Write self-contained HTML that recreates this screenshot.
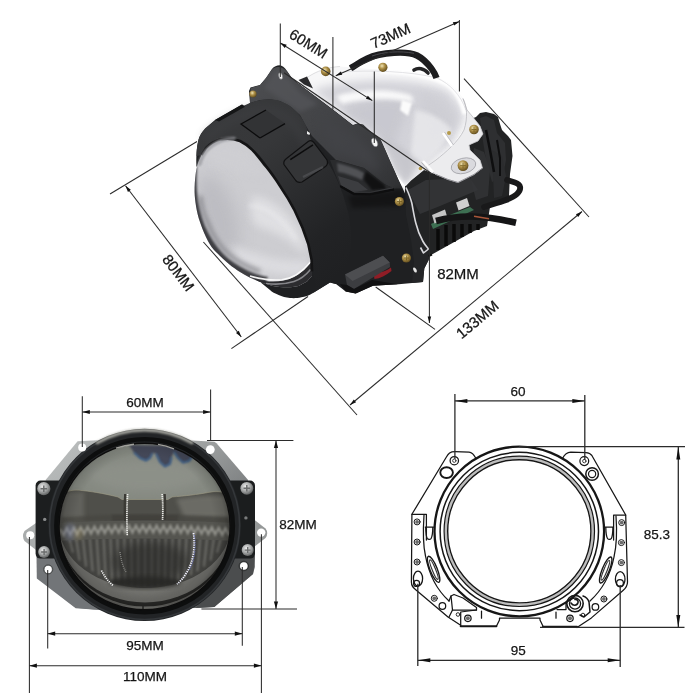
<!DOCTYPE html>
<html lang="en">
<head>
<meta charset="utf-8">
<title>Bi-LED projector lens dimensions</title>
<style>
html,body{margin:0;padding:0;background:#fff;}
body{width:700px;height:700px;overflow:hidden;font-family:"Liberation Sans",sans-serif;}
svg{display:block;}
.dl{stroke:#2b2b2b;stroke-width:1.05;fill:none;}
.ar{fill:#111;stroke:none;}
.t{font-family:"Liberation Sans",sans-serif;font-size:13.5px;fill:#151515;stroke:#151515;stroke-width:.25;text-anchor:middle;}
.tt{font-size:15px;}
</style>
</head>
<body>
<svg width="700" height="700" viewBox="0 0 700 700">
<defs>
<marker id="ae" viewBox="-8 -3 8 6" markerWidth="8" markerHeight="6" refX="0" refY="0" orient="auto-start-reverse" markerUnits="userSpaceOnUse"><path d="M0,0 L-7.5,-2.1 L-7.5,2.1 Z" fill="#111"/></marker>
<marker id="at" viewBox="-8 -3 8 6" markerWidth="8" markerHeight="6" refX="0" refY="0" orient="auto-start-reverse" markerUnits="userSpaceOnUse"><path d="M0,0 L-6.4,-1.8 L-6.4,1.8 Z" fill="#111"/></marker>
<marker id="ad" viewBox="-14 -3 14 6" markerWidth="14" markerHeight="6" refX="0" refY="0" orient="auto-start-reverse" markerUnits="userSpaceOnUse"><path d="M0,0 L-12.5,-2 L-12.5,2 Z" fill="#111"/></marker>
<filter id="soft" color-interpolation-filters="sRGB" x="-5%" y="-5%" width="110%" height="110%"><feGaussianBlur stdDeviation="0.45"/></filter>
<filter id="b1" color-interpolation-filters="sRGB" x="-20%" y="-20%" width="140%" height="140%"><feGaussianBlur stdDeviation="1"/></filter>
<filter id="b2" color-interpolation-filters="sRGB" x="-20%" y="-20%" width="140%" height="140%"><feGaussianBlur stdDeviation="2"/></filter>
<filter id="b4" color-interpolation-filters="sRGB" x="-30%" y="-30%" width="160%" height="160%"><feGaussianBlur stdDeviation="4"/></filter>
<filter id="b8" color-interpolation-filters="sRGB" x="-40%" y="-40%" width="180%" height="180%"><feGaussianBlur stdDeviation="8"/></filter>

<linearGradient id="plateG" x1="0" y1="0" x2="1" y2="1">
  <stop offset="0" stop-color="#bfc2c2"/><stop offset=".35" stop-color="#a4a7a7"/><stop offset=".6" stop-color="#808384"/><stop offset="1" stop-color="#47494a"/>
</linearGradient>
<radialGradient id="ringG" cx="144.6" cy="524.8" r="96.3" gradientUnits="userSpaceOnUse">
  <stop offset=".86" stop-color="#1a1b1b"/><stop offset=".90" stop-color="#0e0e0e"/><stop offset=".955" stop-color="#151616"/><stop offset=".975" stop-color="#2e3030"/><stop offset="1" stop-color="#3c3e3e"/>
</radialGradient>
<linearGradient id="glassG" x1="0" y1="442" x2="0" y2="608" gradientUnits="userSpaceOnUse">
  <stop offset="0" stop-color="#8e8f8b"/><stop offset=".14" stop-color="#8d8e89"/><stop offset=".28" stop-color="#85857f"/>
  <stop offset=".30" stop-color="#55544f"/><stop offset=".46" stop-color="#4a4945"/><stop offset=".475" stop-color="#77776f"/>
  <stop offset=".56" stop-color="#6b6b66"/><stop offset=".60" stop-color="#44443f"/><stop offset=".84" stop-color="#3b3b37"/><stop offset=".9" stop-color="#5e5e5a"/><stop offset=".96" stop-color="#6e6e6a"/><stop offset="1" stop-color="#3a3a38"/>
</linearGradient>
<radialGradient id="glassV" cx="144.6" cy="524" r="86" gradientUnits="userSpaceOnUse">
  <stop offset="0" stop-color="#000" stop-opacity="0"/><stop offset=".8" stop-color="#000" stop-opacity="0"/><stop offset=".93" stop-color="#000" stop-opacity=".12"/><stop offset="1" stop-color="#000" stop-opacity=".34"/>
</radialGradient>
<radialGradient id="screwG" cx=".4" cy=".35" r=".7">
  <stop offset="0" stop-color="#ececec"/><stop offset=".55" stop-color="#a2a4a4"/><stop offset="1" stop-color="#555757"/>
</radialGradient>
<clipPath id="glassClip"><ellipse cx="144.6" cy="526.5" rx="85.5" ry="83.2"/></clipPath>

<linearGradient id="bowlG" x1="320" y1="70" x2="450" y2="180" gradientUnits="userSpaceOnUse">
  <stop offset="0" stop-color="#fbfbfb"/><stop offset=".3" stop-color="#efeff1"/><stop offset=".55" stop-color="#dedee2"/><stop offset=".8" stop-color="#ececee"/><stop offset="1" stop-color="#f6f6f6"/>
</linearGradient>
<linearGradient id="lensG" x1="205" y1="150" x2="300" y2="280" gradientUnits="userSpaceOnUse">
  <stop offset="0" stop-color="#b4b4b9"/><stop offset=".35" stop-color="#c3c3c8"/><stop offset=".7" stop-color="#d8d8dc"/><stop offset="1" stop-color="#e9e9eb"/>
</linearGradient>
<linearGradient id="shroudG" x1="200" y1="100" x2="420" y2="290" gradientUnits="userSpaceOnUse">
  <stop offset="0" stop-color="#303133"/><stop offset=".3" stop-color="#2a2b2d"/><stop offset=".6" stop-color="#1b1c1d"/><stop offset="1" stop-color="#161717"/>
</linearGradient>
<radialGradient id="brassG" cx=".4" cy=".35" r=".75">
  <stop offset="0" stop-color="#efe4b4"/><stop offset=".4" stop-color="#ad8f46"/><stop offset="1" stop-color="#4e3c14"/>
</radialGradient>
<clipPath id="lensClip"><path d="M201.6,155 L206,148 C210,144 215,141 220,139.6 C226,138 233,138.6 240,141 C245,143.5 249,146.5 252,149.6 C256,153.5 260,159 263.5,163.5 C269,169.5 273,175.5 276.6,180.8 L288.2,198.8 L294.2,209.5 L302.6,228 L308.3,244 L311.6,260 L312,271.4 L312,275.7 L307,281.4 L298.6,286 C294,287 290,287.4 287,287.3 C282,287.3 277,286.8 272.9,286 L262.9,283 C256,280.5 248,277 240,272 C232,267 226,262 214,250 C208,243 203,231 200,222 C196.5,212 194.8,200 194.6,192 C194.6,180 196,168 198,163 Z"/></clipPath>
<clipPath id="bowlClip"><path d="M298,88 L306,78 L312,74.5 C320,70 330,67 340,66.5 L370,69 L401,70.7 L423,72.9 L437,77 L448.6,83 L457,90 L463,98.6 L467,110 L466,126 L452,146 L436,160 L424,170 L411,180.5 L405.6,186.2 L394,172 L389.4,159.4 L384.9,149.1 L380.3,138.9 L370,130.9 L363.1,124.6 L357.4,123.4 L352.9,125.1 Z"/></clipPath>
<linearGradient id="bandG" x1="215" y1="105" x2="345" y2="270" gradientUnits="userSpaceOnUse">
  <stop offset="0" stop-color="#38393b"/><stop offset=".3" stop-color="#363739"/><stop offset=".55" stop-color="#2c2d2f"/><stop offset=".8" stop-color="#222325"/><stop offset="1" stop-color="#1f2022"/>
</linearGradient>
<filter id="soft2" color-interpolation-filters="sRGB" x="-5%" y="-5%" width="110%" height="110%"><feGaussianBlur stdDeviation="0.4"/></filter>
<linearGradient id="plateTopG" x1="270" y1="70" x2="400" y2="190" gradientUnits="userSpaceOnUse">
  <stop offset="0" stop-color="#4b4c4f"/><stop offset=".4" stop-color="#434447"/><stop offset=".8" stop-color="#3a3b3e"/><stop offset="1" stop-color="#2f3032"/>
</linearGradient>
</defs>
<rect width="700" height="700" fill="#fff"/>
<g id="top-photo" filter="url(#soft)">
  <!-- heat sink + rear body -->
  <path d="M405,185 L440,150 L471,119 L476,117 L480,113 L486,112 L494,114 L498,117 L500,124 L502,130 L508,136 L511,140 L512.5,156 L510,174 L509,196 L504,203 L490,207 L487,226 L474,231 L431,255 L420,262 L405,235 Z" fill="#222324"/>
  <path d="M480,118 L486,116 L494,120 L497,133 L505,143 L506,160 L503,176 L492,182 L486,160 L482,135 Z" fill="#2e2f31"/>
  <path d="M474,148 L484,152 L490,170 L488,196 L476,200 L470,176 Z" fill="#303133"/>
  <path d="M492,150 L502,156 L506,176 L502,196 L494,198 Z" fill="#2b2c2e"/>
  <path d="M408,190 L426,180 L470,178 L478,190 L440,206 L420,214 Z" fill="#343537" opacity=".9"/>
  <path d="M486,130 L490,150 L494,172" fill="none" stroke="#0e0e0f" stroke-width="2.5"/>
  <path d="M497,140 L500,158 L500,176" fill="none" stroke="#0e0e0f" stroke-width="2"/>
  <!-- wire loop right -->
  <path d="M484,207 C498,203 512,199 517,194 C522,189 521,184.5 515,182.5 L507,180" fill="none" stroke="#19191a" stroke-width="5.8" stroke-linecap="round"/>
  <!-- chrome bowl + bracket -->
  <path d="M298,88 L306,78 L312,74.5 C320,70 330,67 340,66.5 L370,69 L401,70.7 L423,72.9 L437,77 L448.6,83 L457,90 L463,98.6 L467,110 L472,116 L480,126 L483,134 L478,141 L469,145 L470,150 L480,160 L482.5,168 L474,174.5 L458,182.5 L448,179.5 L436,174.5 L424,170 L411,180.5 L405.6,186.2 L394,172 L389.4,159.4 L384.9,149.1 L380.3,138.9 L370,130.9 L363.1,124.6 L357.4,123.4 L352.9,125.1 Z" fill="#f7f7f8"/>
  <g clip-path="url(#bowlClip)">
    <path d="M312,90 C350,78 400,76 442,88 C454,94 461,106 464,118 L452,142 L430,160 L408,182 L390,150 L372,132 L350,118 Z" fill="#d3d3d9" filter="url(#b4)"/>
    <path d="M340,112 C360,98 395,96 410,104 L400,128 L392,152 L372,132 Z" fill="#c6c6cd" opacity=".8" filter="url(#b4)"/>
    <path d="M420,92 C440,96 452,108 456,124 L440,146 L424,140 Z" fill="#cdcdd3" opacity=".8" filter="url(#b4)"/>
    <path d="M336,96 C362,88 396,89 412,96 L414,103 C396,98 366,98 342,104 Z" fill="#fdfdfd" opacity=".9" filter="url(#b2)"/>
    <path d="M402,100 L412,103 L408,116 L400,110 Z" fill="#fbfbfb" filter="url(#b1)"/>
    <path d="M415,110 C430,112 444,120 452,130 L440,150 L420,168 L408,180 Z" fill="#e7e7ea" opacity=".9" filter="url(#b2)"/>
    <path d="M382,138 L400,146 L420,162 L406,184 L394,170 Z" fill="#c4c4ca" opacity=".8" filter="url(#b2)"/>
    <path d="M380,71 C410,72 436,76 450,86 C458,93 463,104 465,114" fill="none" stroke="#fff" stroke-width="5" opacity=".9" filter="url(#b1)"/>
  </g>
  <path d="M298,88 L306,78 L312,74.5 C320,70 330,67 340,66.5" fill="none" stroke="#d5d5d8" stroke-width=".8"/>
  <path d="M340,72 C370,70 410,71 437,78 C450,84 460,94 466,110" fill="none" stroke="#e3e3e6" stroke-width="1"/>
  <!-- top wire -->
  <path d="M414,70 C418,67.5 424,68 428,73" fill="none" stroke="#232325" stroke-width="3.6" stroke-linecap="round"/>
  <path d="M350.5,68.3 C357,64.3 362,61 367,58.6 C375,55 384,53.5 394,52.8 C402,52.3 411,52.6 417,55.5 C422,58 428,64 431.5,68.6 C434,72 435.5,75 436.5,78" fill="none" stroke="#1d1d1f" stroke-width="6.4" stroke-linecap="butt"/>
  <path d="M372,56 C384,51.8 400,50.6 414,53.3" fill="none" stroke="#55555a" stroke-width="1" opacity=".8"/>
  <!-- dark wedge under flange -->
  <path d="M298.5,80 L307,76.5 L313,88.5 L304,84.5 Z" fill="#2a2a2c"/>
  <!-- chrome bracket plate -->
  <path d="M463,98.6 C467,106 468,118 464,130 C458,142 446,152 436,160 L426,167 L436,174.5 L448,179.5 L458,182.5 L474,174.5 L482.5,168 L480,160 L470,150 L469,145 L478,141 L483,134 L480,126 L472,116 L467,110 Z" fill="#ececee" stroke="#b4b4b9" stroke-width=".7"/>
  <path d="M436,174.5 L448,179.5 L458,182.5 L474,174.5 L482.5,168" fill="none" stroke="#8e8e93" stroke-width="1"/>
  <ellipse cx="463.5" cy="165.8" rx="12.5" ry="7.6" fill="#dadade" stroke="#a2a2a8" stroke-width=".8" transform="rotate(-14 463.5 165.8)"/>
  <circle cx="474" cy="129.5" r="4.8" fill="url(#brassG)"/><path d="M471.5,129.5 H476.5 M474,127 V132" stroke="#6b5518" stroke-width="1" opacity=".7"/>
  <circle cx="463" cy="165.6" r="5.4" fill="url(#brassG)"/><path d="M460.2,165.6 H465.8 M463,162.8 V168.4" stroke="#6b5518" stroke-width="1" opacity=".7"/>
  <circle cx="325.7" cy="71.4" r="4.8" fill="url(#brassG)"/>
  <circle cx="382.9" cy="67.3" r="4.6" fill="url(#brassG)"/>
  <path d="M443,133 L452,146" stroke="#fff" stroke-width="2.6"/><path d="M444.5,132 L453.5,145" stroke="#b9b9be" stroke-width=".8"/>
  <path d="M423,161 L433,172" stroke="#fdfdfd" stroke-width="2.6"/><path d="M421.5,162.5 L431,173.5" stroke="#9c9ca0" stroke-width=".8"/>
  <circle cx="449" cy="133" r="2" fill="#b59a4a"/>
  <circle cx="420.5" cy="168.5" r="1.8" fill="#b59a4a"/>
  <!-- pcb / connectors / cable -->
  <path d="M431,224 L452,214 L470,207 L474,210 L433,229 Z" fill="#3d6f52"/>
  <path d="M432,215 L445,209.5 L447.5,218 L434.5,223.5 Z" fill="#c4c4c4"/>
  <path d="M456,202.5 L467,198 L469.5,206 L458.5,210.5 Z" fill="#cfcfcf"/>
  <path d="M436,221 C460,214.5 482,215 516,222.8" fill="none" stroke="#151516" stroke-width="6.6"/>
  <path d="M474,216.3 L489,218.8" stroke="#a8563a" stroke-width="1.5"/>
  <g stroke="#0a0a0a" stroke-width="3.4">
    <line x1="438" y1="229" x2="438" y2="250"/><line x1="446" y1="225" x2="446" y2="246"/><line x1="454" y1="224" x2="454" y2="242"/><line x1="462" y1="224" x2="462" y2="237"/><line x1="470" y1="224" x2="470" y2="233"/><line x1="478" y1="224" x2="478" y2="230"/>
  </g>
  <!-- shroud + black bracket silhouette -->
  <path d="M196.4,166 C196,158 196.5,148 198.4,140 C200,134 204,129 208,126 L215,120 L242,104.4 L245,106.5 L250,103 L249,91 L250.5,87.5 L260,85 L266,78 L272,69 C274,66.5 277,65.3 279.5,65.3 C282,65.5 284.5,67.5 287,71 L291.5,77.5 L298,83 L311,93 L333,109.6 L352.9,125.1 L357.4,123.4 L363.1,124.6 L370,130.9 L380.3,138.9 L384.9,149.1 L389.4,159.4 L398.6,180 L402.5,188 L407,198 L412,200 L414.3,214 L417,228.6 L423,241.4 L428.5,248.6 L430,254 L428.6,260 L424.3,268.6 L423,282 L398.6,284.3 L373,285.7 L355.7,293.6 L345.7,291.4 L336,284 L330,282.5 L313,293 C309,295.5 305,297 301.4,297.3 C297,298.2 294,298.3 290,298 C286,297.5 282,296.5 278.6,295 C275,293.5 272,292 270,290 L261.4,283 L230,230 Z" fill="#1f2022"/>
  <!-- bracket face -->
  <path d="M250.5,88 L260,85.3 L266,78 L272,69.5 C275,66 282,65.5 287,71.5 L291.5,78 L298,83.5 L311,93.5 L333,110 L352.9,125.5 L357.4,123.8 L363.1,125 L370,131.3 L380.3,139.3 L384.9,149.5 L389.4,159.8 L398.6,180.4 L402,188.5 L394,188.5 L384,184 L364,168 L336,160 L312,136 L306,126 L300,115 L290,106 L280,101 L270,99.2 L260,100 L250,103 Z" fill="url(#plateTopG)"/>
  <path d="M264,88 L274,72 L281,69 L288,78 L300,92 L318,104 L300,112 L282,100 Z" fill="#55565a" opacity=".7" filter="url(#b2)"/>
  <path d="M318,116 L352,132 L372,150 L380,172 L360,162 L330,150 Z" fill="#434448" opacity=".75" filter="url(#b4)"/>
  <!-- silver strip along bracket top edge -->
  <path d="M299,82.6 L311.6,92 L333.5,108.5 L352.6,123.4" fill="none" stroke="#d4d4d8" stroke-width="1.5"/>
  <!-- neck visible under bracket -->
  <path d="M330,160 L336,160 L364,168 L384,184 L394,188.5 L392,192 L370,194 L354,194 L340,186 Z" fill="#2a2b2d"/>
  <path d="M337,163 C346,165 356,168 364,173 L362,180 C354,176 345,173 338,172 Z" fill="#5b5c60" opacity=".8" filter="url(#b1)"/>
  <path d="M338,176 L358,182 L368,190 L354,192 L341,185 Z" fill="#3e3f42" opacity=".9"/>
  <path d="M366,171 L384,184.5 L386,189 L372,190 L364,180 Z" fill="#0f0f10" opacity=".9" filter="url(#b1)"/>
  <path d="M340,186 L354,194 L370,194.4 L394,189.5" fill="none" stroke="#0d0d0e" stroke-width="2.4"/>
  <path d="M341,184.5 L354.5,192 L370,192.4 L393,187.8" fill="none" stroke="#3c3d40" stroke-width="1"/>
  <!-- band top face -->
  <path d="M196.6,156 C196.5,148 198,140 200,136 C203,130 208,126 215,121 L243,106 L250,103 C257,100.5 265,99 272,99.3 C279,100 286,103 292,107.5 C298,112.5 303,119 306,126 L311.4,140.7 L322,154 L330,166 C338,180 344,196 348,212 C351,226 352,240 350,254 C348,266 343,276 336,284 L330,282.5 L313,293 C318,286 314,276 312,271.4 L311.6,260 L306,244 L300,230 L292,214 L283,198 L276,182 C271,172 266,163 260,156 C254,149.5 248,144 240,141 C233,138.6 226,138 220,139.6 C215,141 210,144 206,148 L201.6,155 Z" fill="url(#bandG)"/>
  <path d="M206,140 C214,130 232,118 254,112 C268,109 282,112 292,122 C300,130 306,142 312,154" fill="none" stroke="#3f4043" stroke-width="9" opacity=".55" filter="url(#b4)"/>
  <!-- small ledge left of screw -->
  <path d="M215,120 L242,104.4 L245,106.8 L219,121.5 Z" fill="#151617"/>
  <!-- clips on band -->
  <path d="M241,124 L266,110 L285,123.6 L260,138 Z" fill="#323335"/>
  <path d="M260,138 L241,124 L266,110" fill="none" stroke="#0c0c0d" stroke-width="1.3"/>
  <path d="M260,138 L285,123.6" fill="none" stroke="#0c0c0d" stroke-width="1.3"/>
  <path d="M286.5,158.5 L308.5,141.2 Q311.5,139.6 314,142.6 L327,160 Q328.5,164 325.5,166.5 L302,182 Q297.5,183.5 295,179.5 L284,164.5 Q283,161 286.5,158.5 Z" fill="#343537" stroke="#111112" stroke-width="1.2"/>
  <path d="M290.3,159.7 L313,144.9" stroke="#0c0c0d" stroke-width="1.6"/>
  <path d="M303,177 L323,167" stroke="#4c4d50" stroke-width="2.2" opacity=".85"/>
  <path d="M307,131 L310,133 L309.5,135 L307,134 Z" fill="#eaeaea"/>
  <!-- holes in bracket -->
  <ellipse cx="280.6" cy="76" rx="1.9" ry="3.3" fill="#f2f2f2" stroke="#77787c" stroke-width=".6" transform="rotate(-15 280.6 76)"/>
  <ellipse cx="374.6" cy="142.4" rx="2.7" ry="4.6" fill="#f6f6f6" stroke="#77787c" stroke-width=".6" transform="rotate(-22 374.6 142.4)"/>
  <!-- brass screws -->
  <circle cx="253" cy="94" r="3.6" fill="url(#brassG)"/>
  <!-- bracket right flange -->
  <path d="M405,192 L411,197 L414.3,214 L417,228.6 L423,241.4 L428.5,248.6 L430,254 L428.6,260 L424.3,268.6 L423,282 L412,283 L414,262 L411,240 L406,215 Z" fill="#242527"/>
  <!-- silver spring clip -->
  <path d="M406,187.5 C408.5,193 410.5,198 411.8,203 C413,209 414,216 415.8,223 C417.3,229.5 420,236 423,241.5 C425,245 427,247 428.5,249 L423.5,253 L420.5,247.5" fill="none" stroke="#d8d8dc" stroke-width="1.6" stroke-linejoin="round"/>
  <ellipse cx="415" cy="270" rx="1.5" ry="2.8" fill="#e6e6e6" transform="rotate(-30 415 270)"/>
  <path d="M428.5,256 L432,254.5" stroke="#111" stroke-width="2"/>
  <!-- lower block + red -->
  <path d="M373,271.5 C379,273.5 386,271.5 391,267.5 L391.5,271 C386,275.5 380,278.5 374.5,279 Z" fill="#8f1d26"/>
  <path d="M345,274.6 L383,255.7 L389.7,262.6 L390,267 L354,289 L347,285 Z" fill="#3c3d40"/>
  <path d="M345,274.6 L383,255.7 L389.7,262.6 L352.5,281 Z" fill="#4d4e51"/>
  <path d="M340,284 L347,285 L354,289 L372,280 L398,284.3 L373,285.7 L355.7,293.6 L345.7,291.4 Z" fill="#111112"/>
  <!-- dark step under bracket fold -->
  <path d="M348,196 L392,191 L402,189 L405,200 L400,206 L352,208 Z" fill="#121213" opacity=".8" filter="url(#b2)"/>
  <!-- lens -->
  <g clip-path="url(#lensClip)">
    <rect x="190" y="130" width="130" height="165" fill="#cdcdd1"/>
    <ellipse cx="218" cy="215" rx="18" ry="42" fill="#b6b6bc" opacity=".7" filter="url(#b8)" transform="rotate(-18 218 215)"/>
    <path d="M206,150 C216,142 232,142 246,150 C254,156 260,166 264,176 L240,172 L214,166 Z" fill="#cfcfd3" opacity=".7" filter="url(#b4)"/>
    <path d="M252,196 C268,196 290,212 302,236 L306,256 C292,240 276,232 256,226 C250,218 250,206 252,196 Z" fill="#e4e4e7" opacity=".8" filter="url(#b4)"/>
    <path d="M248,206 C262,204 284,218 296,240" fill="none" stroke="#f0f0f2" stroke-width="3" opacity=".5" filter="url(#b2)"/>
    <path d="M232,244 C252,254 286,264 308,260 L308,274 C288,278 258,272 236,260 Z" fill="#dfdfe3" opacity=".85" filter="url(#b4)"/>
    <!-- dark rim left/bottom -->
    <path d="M192,170 L197,166 C196.6,176 196.4,184 197,192 C198,204 201,216 205,226 C209.5,236 215,245 223,253.5 C231,261.5 241,267.5 251,272 C257,274.5 262,276 268,277 L262,292 L220,272 L192,220 Z" fill="#37373b" opacity=".95" filter="url(#b1)"/>
    <path d="M200.5,196 C201,206 203.5,214 207.5,222 C212,234 219,246 229,254.5 C238,262 248,267.5 260,271.5" fill="none" stroke="#6c6c72" stroke-width="4.5" opacity=".55" filter="url(#b2)"/>
    <!-- flange layers bottom right -->
    <path d="M255,279 C262,281 268,281.6 273,281.6 C280,281.6 288,280 294.3,277 C300,274 306,268.5 311,262 L313,280 L300,290 L270,290 Z" fill="#2c2c2f"/>
    <path d="M266,283.5 C276,284.8 286,284 294,281.5 C300,279.5 306,275 310.5,269.5" fill="none" stroke="#8f8f94" stroke-width="1.6" opacity=".9"/>
    <path d="M250,276 C262,279.5 272,280.6 282,279.8 C292,278.5 302,272.5 310.5,262" fill="none" stroke="#fafafa" stroke-width="1.6" opacity=".95"/>
  </g>
  <path d="M201.6,155 L206,148 C210,144 215,141 220,139.6 C226,138 233,138.6 240,141 C245,143.5 249,146.5 252,149.6 C256,153.5 260,159 263.5,163.5 C269,169.5 273,175.5 276.6,180.8 L288.2,198.8 L294.2,209.5 L302.6,228 L308.3,244 L311.6,260 L312,271.4" fill="none" stroke="#141415" stroke-width="2.6"/>
  <path d="M199.6,164 C201,158.5 203.6,154 207,149.8 C211,145.6 216,142.4 221.4,140.4 C226,139 230,138.2 234.3,138.4" fill="none" stroke="#8d8e93" stroke-width="3.2" stroke-linecap="round" opacity=".8" filter="url(#b1)"/>
  <path d="M199,166 C200.4,160 203,155 206.4,151 C210.5,146.6 215.5,143 221,141" fill="none" stroke="#b4b4b9" stroke-width="1.6" opacity=".8" filter="url(#b1)"/>
  <circle cx="399.4" cy="201.6" r="4.6" fill="url(#brassG)"/><path d="M397,201.6 H402 M399.4,199.2 V204" stroke="#5f4b14" stroke-width="1" opacity=".7"/>
  <circle cx="406.4" cy="258" r="4.6" fill="url(#brassG)"/><path d="M404,258 H409 M406.4,255.6 V260.4" stroke="#5f4b14" stroke-width="1" opacity=".7"/>
</g>
<g id="front-photo" filter="url(#soft)">
  <!-- mounting plate -->
  <path d="M77.6,441.2 L98,440.3 L192,440.6 L214.3,441.7 L216.5,443.2 L247.7,479.4 L254.8,500 L254.8,567 L253,574 L214.3,607 L196,608 L94.3,609.6 L75.7,607.7 L37.6,578 L37,561 L40,500 L46,479.4 Z" fill="url(#plateG)"/>
  <path d="M36.5,556 L62,556 L100,610 L75.7,608.2 L36.8,578.6 Z" fill="#727578"/>
  <path d="M254.8,556 L226,556 L196,608 L214.3,607 L253,574 Z" fill="#4b4d4e"/>
  <!-- ears -->
  <path d="M36,523 L24.5,531 Q21.5,536 24.5,541 L36,550 Z" fill="#a9acac"/>
  <path d="M254,519.5 L265.5,528.5 Q269,533 265.5,538 L254,547 Z" fill="#959898"/>
  <!-- black side blocks -->
  <rect x="35.6" y="480.6" width="30" height="78" rx="5" fill="#1c1e1f"/>
  <rect x="226" y="480.6" width="29" height="78" rx="5" fill="#1b1d1e"/>
  <!-- ring -->
  <ellipse cx="144.6" cy="524.9" rx="96.5" ry="96.1" fill="#222426"/>
  <ellipse cx="144.6" cy="524.9" rx="95" ry="94.6" fill="none" stroke="#34373a" stroke-width="1.6"/>
  <path d="M96,443.5 A94.6,94.6 0 0 1 193,443.5" fill="none" stroke="#b4b4ac" stroke-width="3.2" opacity=".85" filter="url(#b1)"/>
  <ellipse cx="144.6" cy="525.8" rx="88.3" ry="86.6" fill="none" stroke="#0d0e0e" stroke-width="4.4"/>
  
  <!-- glass -->
  <ellipse cx="144.6" cy="526.5" rx="85.5" ry="83.2" fill="#6f6f6b"/>
  <g clip-path="url(#glassClip)">
    <!-- bottom arcs -->
    <ellipse cx="145" cy="525" rx="87" ry="81.5" fill="#292927"/>
    <ellipse cx="145" cy="525" rx="87" ry="77.5" fill="#6e6e6a"/>
    <ellipse cx="145" cy="530" rx="66" ry="66" fill="#73736f" opacity=".6" filter="url(#b2)"/>
    <ellipse cx="145" cy="525" rx="86" ry="63" fill="#444441"/>
    <g stroke="#73736e" stroke-width="2.2" opacity=".8" filter="url(#b1)"><line x1="69.1" y1="538" x2="72.9" y2="552.6"/><line x1="76.0" y1="538" x2="79.5" y2="560.6"/><line x1="82.9" y1="538" x2="86.0" y2="566.6"/><line x1="89.8" y1="538" x2="92.6" y2="571.3"/><line x1="96.7" y1="538" x2="99.1" y2="575.1"/><line x1="103.6" y1="538" x2="105.7" y2="578.2"/><line x1="110.5" y1="538" x2="112.2" y2="580.7"/><line x1="117.4" y1="538" x2="118.8" y2="582.7"/><line x1="124.3" y1="538" x2="125.3" y2="584.1"/><line x1="131.2" y1="538" x2="131.9" y2="585.2"/><line x1="138.1" y1="538" x2="138.4" y2="585.8"/><line x1="145.0" y1="538" x2="145.0" y2="586.0"/><line x1="151.9" y1="538" x2="151.6" y2="585.8"/><line x1="158.8" y1="538" x2="158.1" y2="585.2"/><line x1="165.7" y1="538" x2="164.7" y2="584.1"/><line x1="172.6" y1="538" x2="171.2" y2="582.7"/><line x1="179.5" y1="538" x2="177.8" y2="580.7"/><line x1="186.4" y1="538" x2="184.3" y2="578.2"/><line x1="193.3" y1="538" x2="190.9" y2="575.1"/><line x1="200.2" y1="538" x2="197.4" y2="571.3"/><line x1="207.1" y1="538" x2="204.0" y2="566.6"/><line x1="214.0" y1="538" x2="210.6" y2="560.6"/><line x1="220.9" y1="538" x2="217.1" y2="552.6"/></g>
    <ellipse cx="145" cy="582" rx="36" ry="6" fill="#262624" opacity=".9" filter="url(#b2)"/>
    <ellipse cx="150" cy="562" rx="38" ry="20" fill="#2a2a28" opacity=".6" filter="url(#b4)"/>
    <!-- upper region base -->
    <path d="M56,440 H234 V523 Q145,518 56,523 Z" fill="#868a82"/>
    <ellipse cx="146" cy="476" rx="56" ry="16" fill="#91948d" opacity=".6" filter="url(#b4)"/>
    <!-- dark hill band -->
    <path d="M58,497 C66,490 74,489.5 82,490.5 C96,492 108,494.5 118,497 L122,499.5 L168,499.5 L172,497 C184,496 198,494.5 208,492.5 C216,491 224,491 232,496 L234,496 L234,524 Q145,519 56,524 L56,497 Z" fill="#4f4f4a"/>
    <path d="M176,499 C192,497 210,493 232,497 L232,518 L184,517 Z" fill="#84847d" opacity=".55" filter="url(#b2)"/>
    <path d="M60,494 C70,491 78,491 84,492 L84,520 L60,522 Z" fill="#6f6f69" opacity=".6" filter="url(#b2)"/>
    <path d="M58,497 C66,490 74,489.5 82,490.5 C96,492 108,494.5 118,497 L122,499.5 L168,499.5 L172,497 C184,496 198,494.5 208,492.5 C216,491 224,491 232,496" fill="none" stroke="#a09d86" stroke-width="1" opacity=".6"/>
    <path d="M112,515 L178,515 L178,521 L112,521 Z" fill="#3b3a36" opacity=".75" filter="url(#b1)"/>
    <path d="M62,517 Q145,512 228,517 L228,522 Q145,518 62,522 Z" fill="#45443f" opacity=".6" filter="url(#b1)"/>
    <!-- blue reflections -->
    <path d="M129,445 L193,446 L192,457 L189,461 L183,462.5 L178,458 L174,452 L171.5,457 L170,464 L165,466.5 L160,462 L156,453.5 L152.5,453 L150,458 L146,460.5 L140,458 L134,452.5 Z" fill="#444858" filter="url(#b1)"/>
    <path d="M134,452.5 L140,458 L146,460.5 L150,458 L152.5,453 M156,453.5 L160,462 L165,466.5 L170,464 L171.5,457 M174,452 L178,458 L183,462.5 L189,461 L192,457" fill="none" stroke="#2c5a92" stroke-width="1.6" opacity=".85" filter="url(#b1)"/>
    <!-- zigzag strip -->
    <path d="M56,523 Q145,518 234,523 L234,541 Q145,536 56,541 Z" fill="#555550"/>
    <path d="M60,529 L63.5,535.2 L66.9,528.1 L70.3,534.7 L73.8,527.7 L77.2,534.3 L80.7,527.3 L84.2,533.9 L87.6,527.0 L91.0,533.6 L94.5,526.7 L98.0,533.3 L101.4,526.4 L104.8,533.1 L108.3,526.2 L111.8,532.9 L115.2,526.0 L118.7,532.7 L122.1,525.8 L125.5,532.6 L129.0,525.7 L132.4,532.5 L135.9,525.6 L139.4,532.4 L142.8,525.6 L146.2,532.4 L149.7,525.6 L153.2,532.4 L156.6,525.7 L160.1,532.5 L163.5,525.7 L166.9,532.6 L170.4,525.9 L173.9,532.7 L177.3,526.0 L180.8,532.9 L184.2,526.2 L187.7,533.2 L191.1,526.5 L194.6,533.4 L198.0,526.8 L201.5,533.7 L204.9,527.1 L208.3,534.1 L211.8,527.5 L215.2,534.4 L218.7,527.9 L222.2,534.9 L225.6,528.3 L229.1,535.3" fill="none" stroke="#a5a59e" stroke-width="2.4" opacity=".75" filter="url(#b1)"/>
    <!-- white dashes -->
    <path d="M125.3,494 Q124.3,508 125.3,521" fill="none" stroke="#3b3a35" stroke-width="2.4"/>
    <path d="M127.6,494 Q126.4,515 127.3,536" fill="none" stroke="#ecece8" stroke-width="1.7" stroke-dasharray="1.2 .7"/>
    <path d="M164.6,494 Q165.4,507 164.8,520" fill="none" stroke="#3b3a35" stroke-width="2.4"/>
    <path d="M162.1,494 Q163.3,507 162.5,520.5" fill="none" stroke="#ecece8" stroke-width="1.7" stroke-dasharray="1.2 .7"/>
    <path d="M193.5,533 C195.5,548 193,562 187,572 C184,577 181,581 177,584" fill="none" stroke="#f2f2ff" stroke-width="1.8" stroke-dasharray="1.3 1"/>
    <path d="M194.5,535 C196.3,548 194.5,560 189.5,570" fill="none" stroke="#6d78c8" stroke-width="1" stroke-dasharray="1.3 1" opacity=".8"/>
    <path d="M101.5,570.5 C104,576 108,581 113,585.5" fill="none" stroke="#f2f2f2" stroke-width="1.8" stroke-dasharray="1.2 1"/>
    <path d="M120,552 C121,560 123,567 126,572" fill="none" stroke="#9a9a96" stroke-width="1.4" stroke-dasharray="1 1" opacity=".8"/>
    <!-- rainbow left -->
    <ellipse cx="70" cy="532" rx="6" ry="9" fill="#8a93b8" opacity=".35" filter="url(#b2)"/>
    <ellipse cx="78" cy="534" rx="5" ry="6" fill="#b0a070" opacity=".3" filter="url(#b2)"/>
    <!-- bottom light arc with tick -->
    <path d="M92,602.5 Q145,613.5 198,602.5" fill="none" stroke="#84847f" stroke-width="2.6" opacity=".9"/>
    <path d="M143,603 V610" stroke="#2a2a28" stroke-width="1.4"/>
    <ellipse cx="144.6" cy="526.5" rx="85.5" ry="83.2" fill="url(#glassV)"/>
  </g>
  <ellipse cx="144.6" cy="526.5" rx="85.6" ry="83.3" fill="none" stroke="#0c0c0c" stroke-width="1.4"/>
  <path d="M116,448.2 A85.5,83.2 0 0 1 134,444.2 M158,444.4 A85.5,83.2 0 0 1 174,448.8" fill="none" stroke="#c4c4be" stroke-width="1.4" opacity=".8"/>
  <!-- mounting holes -->
  <circle cx="82.2" cy="447.6" r="4" fill="#fff"/>
  <circle cx="210.3" cy="449.6" r="4.4" fill="#fff"/>
  <circle cx="30.2" cy="535.3" r="4" fill="#fff"/>
  <circle cx="261.2" cy="532.6" r="4.2" fill="#fff"/>
  <circle cx="48.2" cy="569.4" r="3.6" fill="#fff"/>
  <circle cx="48.2" cy="569.4" r="4.6" fill="none" stroke="#4a4c4c" stroke-width="1"/>
  <circle cx="243.8" cy="566" r="3.8" fill="#fff"/>
  <circle cx="243.8" cy="566" r="4.8" fill="none" stroke="#303232" stroke-width="1"/>
  <!-- screws -->
  <g>
    <circle cx="43.8" cy="488.7" r="6.6" fill="url(#screwG)"/><path d="M40.5,488.7 H47.1 M43.8,485.4 V492" stroke="#6a6c6c" stroke-width="1.5"/>
    <circle cx="246.8" cy="488.3" r="6.4" fill="url(#screwG)"/><path d="M243.5,488.3 H250.1 M246.8,485 V491.6" stroke="#6a6c6c" stroke-width="1.5"/>
    <circle cx="44.1" cy="552" r="5.9" fill="url(#screwG)"/><path d="M41.1,552 H47.1 M44.1,549 V555" stroke="#6a6c6c" stroke-width="1.4"/>
    <circle cx="247.7" cy="550.1" r="6" fill="url(#screwG)"/><path d="M244.7,550.1 H250.7 M247.7,547.1 V553.1" stroke="#6a6c6c" stroke-width="1.4"/>
    <circle cx="44.7" cy="519.4" r="1.7" fill="#8a8c8c"/>
    <circle cx="245.9" cy="517.9" r="1.7" fill="#7a7c7c"/>
  </g>
</g>
<g id="line-drawing" filter="url(#soft)" fill="none" stroke="#161616" stroke-width="1.25" stroke-linejoin="round" stroke-linecap="round">
  <!-- lens rings -->
  <circle cx="519.3" cy="531.5" r="84.8" stroke-width="2.3"/>
  <circle cx="519.3" cy="531.5" r="79.2" stroke-width="1.5"/>
  <circle cx="519.3" cy="531.3" r="73.6" stroke="#bdbdbd" stroke-width="2.6"/>
  <circle cx="519.3" cy="531.3" r="75.2" stroke-width="1.2"/>
  <circle cx="519.3" cy="531.3" r="71.6" stroke-width="1.4"/>
  <!-- left bracket -->
  <path d="M476,458.5 C474,454.5 472.5,452 469,452 L455,451.7 C450,451.7 448.5,453.5 446.4,457 L411.9,514.3 L411.4,582 C411.4,586 413,587.5 416,590 L448,617 L460.7,625.3"/>
  <path d="M411.9,514.3 L426.4,514.3 L426.4,540"/>
  <path d="M424,515 C423,530 423,545 425.5,556 C429,575 437,590 449,601"/>
  <path d="M433.6,527.1 L425.2,527.1 M432.8,527.6 C432.7,533 432.2,537 431,538.6 C430,539.8 428.2,539.8 427.2,538.4 C426.2,536.6 425.8,532 425.7,527.6"/>
  <circle cx="454.3" cy="460.7" r="4.2"/><circle cx="454.3" cy="460.7" r="1.7" stroke-width=".8"/>
  <ellipse cx="446.6" cy="472.6" rx="6.3" ry="5.4" stroke-width="1.9"/>
  <circle cx="417.1" cy="521.9" r="3" stroke-width="1"/><circle cx="417.1" cy="521.9" r="1.9" fill="#6a6a6a" stroke="none"/>
  <circle cx="417.1" cy="542" r="3" stroke-width="1"/><circle cx="417.1" cy="542" r="1.9" fill="#6a6a6a" stroke="none"/>
  <circle cx="417.1" cy="562" r="3" stroke-width="1"/><circle cx="417.1" cy="562" r="1.9" fill="#6a6a6a" stroke="none"/>
  <ellipse cx="418" cy="578.6" rx="4.6" ry="7.4" stroke-width="1.3"/><circle cx="416.6" cy="583.4" r="3" />
  <circle cx="434.3" cy="598.3" r="3" stroke-width="1"/><circle cx="434.3" cy="598.3" r="1.9" fill="#6a6a6a" stroke="none"/>
  <circle cx="442.4" cy="606" r="3.3"/>
  <circle cx="467.9" cy="618.3" r="3.2"/><circle cx="467.9" cy="618.3" r="2" fill="#6a6a6a" stroke="none"/>
  <ellipse cx="433.6" cy="569.3" rx="3.6" ry="14" transform="rotate(-22 433.6 569.3)" stroke-width="1.4"/>
  <ellipse cx="433.9" cy="569.6" rx="1.7" ry="10.5" transform="rotate(-22 433.9 569.6)" stroke-width="1.2" stroke="#333"/>
  <!-- right bracket -->
  <path d="M562.6,458.2 C564.5,454.5 566.5,452.2 570.7,452.1 L586,452.6 C589.5,452.8 590.5,453.5 592,455.7 L625.7,515 L627.5,582 C627.5,586 626,588 623,590.5 L591.4,617.9 L577,627.5"/>
  <path d="M625.7,515 L613.6,515 L613.6,540"/>
  <path d="M616,516 C617,530 616.5,546 614,557 C610.5,575 602,590 590,601"/>
  <path d="M605,527.1 L613.4,527.1 M605.8,527.6 C605.9,533 606.4,537 607.6,538.6 C608.6,539.8 610.4,539.8 611.4,538.4 C612.4,536.6 612.8,532 612.9,527.6"/>
  <circle cx="584.3" cy="461.1" r="4.4"/><circle cx="584.3" cy="461.1" r="1.7" stroke-width=".8"/>
  <circle cx="592.1" cy="474" r="6.3" stroke-width="1.5"/><circle cx="592.1" cy="474" r="3.6" stroke-width="1.2"/>
  <circle cx="621.7" cy="522.6" r="3" stroke-width="1"/><circle cx="621.7" cy="522.6" r="1.9" fill="#6a6a6a" stroke="none"/>
  <circle cx="621.4" cy="542.6" r="3" stroke-width="1"/><circle cx="621.4" cy="542.6" r="1.9" fill="#6a6a6a" stroke="none"/>
  <circle cx="621.4" cy="562.6" r="3" stroke-width="1"/><circle cx="621.4" cy="562.6" r="1.9" fill="#6a6a6a" stroke="none"/>
  <ellipse cx="620.2" cy="579.3" rx="4.8" ry="7.6" stroke-width="1.3"/><circle cx="620" cy="583" r="3.4"/>
  <circle cx="603.9" cy="599" r="3" stroke-width="1"/><circle cx="603.9" cy="599" r="1.9" fill="#6a6a6a" stroke="none"/>
  <circle cx="595.4" cy="606.9" r="3.3"/>
  <circle cx="570" cy="618.3" r="3.2"/><circle cx="570" cy="618.3" r="2" fill="#6a6a6a" stroke="none"/>
  <ellipse cx="605.7" cy="570" rx="3.6" ry="14" transform="rotate(22 605.7 570)" stroke-width="1.4"/>
  <ellipse cx="605.4" cy="570.3" rx="1.7" ry="10.5" transform="rotate(22 605.4 570.3)" stroke-width="1.2" stroke="#333"/>
  <!-- bottom feet / mechanism -->
  <path d="M451,596 L454,594.5 L463,598 L476.5,607.5 L476.5,610 L452.5,610 Z"/>
  <path d="M449,601 L451,596 M452.5,610 L449,617"/>
  <path d="M460.7,625.3 L460.7,612 L476.5,610"/>
  <path d="M460.7,626.3 L496.4,626.3" stroke-width="2"/>
  <path d="M496.4,626.3 L499.5,620 L499.5,618.2 L540,618.2 L540,620 L543,626.3"/>
  <path d="M481.5,611 L481.5,618.2 M556,612 L556,618.2"/>
  <path d="M543,626.8 L577,626.8" stroke-width="2"/>
  <path d="M557,609.5 L566,609.5 L566,603"/>
  <circle cx="575" cy="603.6" r="8.2" stroke-width="1.6"/>
  <circle cx="575" cy="603.6" r="5.6" stroke-width="1.3"/>
  <path d="M571,603 C573,606 577,606 578,602.5 C578.5,600.5 577,599 575,599.5" stroke-width="1.6"/>
  <path d="M583,596 C586,597 588,599 589,602 L590,612 L584,617 L580,615" stroke-width="1.5"/>
  <circle cx="458" cy="614.5" r="1.8" stroke-width=".9"/>
  <circle cx="583" cy="615" r="1.8" stroke-width=".9"/>
</g>
<g id="dims-top" filter="url(#soft2)">
  <!-- 80MM -->
  <line class="dl" x1="110" y1="194" x2="197" y2="141.5"/>
  <line class="dl" x1="231.4" y1="348.6" x2="308" y2="296.5"/>
  <line class="dl" x1="125.5" y1="185.7" x2="241.3" y2="337" marker-start="url(#at)" marker-end="url(#at)"/>
  <text class="t tt" transform="translate(174.2,276) rotate(52.6)">80MM</text>
  <!-- 133MM -->
  <line class="dl" x1="203.4" y1="242" x2="357" y2="415"/>
  <line class="dl" x1="464" y1="78.6" x2="589" y2="217"/>
  <line class="dl" x1="350" y1="405" x2="582" y2="211.5" marker-start="url(#at)" marker-end="url(#at)"/>
  <text class="t tt" transform="translate(480.6,323.6) rotate(-39.8)">133MM</text>
  <!-- 82MM -->
  <line class="dl" x1="429.4" y1="172" x2="429.4" y2="323" marker-end="url(#at)"/>
  <line class="dl" x1="375.7" y1="287" x2="435" y2="329.4"/>
  <line class="dl" x1="284" y1="72.8" x2="431" y2="173.2"/>
  <text class="t tt" x="458" y="278.5">82MM</text>
  <!-- 60MM -->
  <line class="dl" x1="280.3" y1="23.4" x2="280.3" y2="77"/>
  <line class="dl" x1="332.9" y1="37" x2="332.9" y2="109.4"/>
  <line class="dl" x1="374.3" y1="71.4" x2="374.3" y2="143"/>
  <line class="dl" x1="280.3" y1="43" x2="372.3" y2="100.6" marker-start="url(#at)" marker-end="url(#at)"/>
  <text class="t tt" transform="translate(305.7,48.1) rotate(32)">60MM</text>
  <!-- 73MM -->
  <line class="dl" x1="459.4" y1="20" x2="459.4" y2="91.4"/>
  <line class="dl" x1="335.7" y1="75.7" x2="459.4" y2="21.4" marker-start="url(#at)" marker-end="url(#at)"/>
  <text class="t tt" transform="translate(392.6,40.7) rotate(-23.7)">73MM</text>
</g>
<g id="dims-front" filter="url(#soft2)">
  <line class="dl" x1="82.3" y1="396.3" x2="82.3" y2="447"/>
  <line class="dl" x1="210.6" y1="389.4" x2="210.6" y2="441"/>
  <line class="dl" x1="82.3" y1="412" x2="210.6" y2="412" marker-start="url(#ae)" marker-end="url(#ae)"/>
  <text class="t" x="145" y="407">60MM</text>
  <line class="dl" x1="207" y1="440.5" x2="293.4" y2="440.5"/>
  <line class="dl" x1="201.4" y1="609" x2="297" y2="609"/>
  <line class="dl" x1="276" y1="440.5" x2="276" y2="609" marker-start="url(#ae)" marker-end="url(#ae)"/>
  <text class="t" x="298" y="528.6">82MM</text>
  <line class="dl" x1="47.7" y1="570" x2="47.7" y2="648.6"/>
  <line class="dl" x1="242.3" y1="567" x2="242.3" y2="645.7"/>
  <line class="dl" x1="47.7" y1="633.7" x2="242.3" y2="633.7" marker-start="url(#ae)" marker-end="url(#ae)"/>
  <text class="t" x="145" y="650">95MM</text>
  <line class="dl" x1="29.4" y1="537" x2="29.4" y2="693"/>
  <line class="dl" x1="261.4" y1="534.3" x2="261.4" y2="693"/>
  <line class="dl" x1="29.4" y1="665.7" x2="261.4" y2="665.7" marker-start="url(#ae)" marker-end="url(#ae)"/>
  <text class="t" x="145" y="681.4">110MM</text>
</g>
<g id="dims-drawing" filter="url(#soft2)" stroke-width="1.3">
  <line class="dl" style="stroke-width:1.3" x1="454.9" y1="394" x2="454.9" y2="459"/>
  <line class="dl" style="stroke-width:1.3" x1="584.8" y1="395" x2="584.8" y2="460"/>
  <line class="dl" style="stroke-width:1.3" x1="454.9" y1="400.9" x2="584.8" y2="400.9" marker-start="url(#ad)" marker-end="url(#ad)"/>
  <text class="t" x="518" y="395.6">60</text>
  <line class="dl" style="stroke-width:1.3" x1="519" y1="446.7" x2="685" y2="446.7"/>
  <line class="dl" style="stroke-width:1.3" x1="540" y1="627.4" x2="684.5" y2="627.4"/>
  <line class="dl" style="stroke-width:1.3" x1="678.3" y1="446.9" x2="678.3" y2="627.4" marker-start="url(#ad)" marker-end="url(#ad)"/>
  <text class="t" x="656.8" y="539">85.3</text>
  <line class="dl" style="stroke-width:1.3" x1="417.8" y1="583.7" x2="417.8" y2="666"/>
  <line class="dl" style="stroke-width:1.3" x1="620.2" y1="585" x2="620.2" y2="667"/>
  <line class="dl" style="stroke-width:1.3" x1="417.8" y1="660.3" x2="620.2" y2="660.3" marker-start="url(#ad)" marker-end="url(#ad)"/>
  <text class="t" x="518.2" y="655.3">95</text>
</g>
</svg>
</body>
</html>
